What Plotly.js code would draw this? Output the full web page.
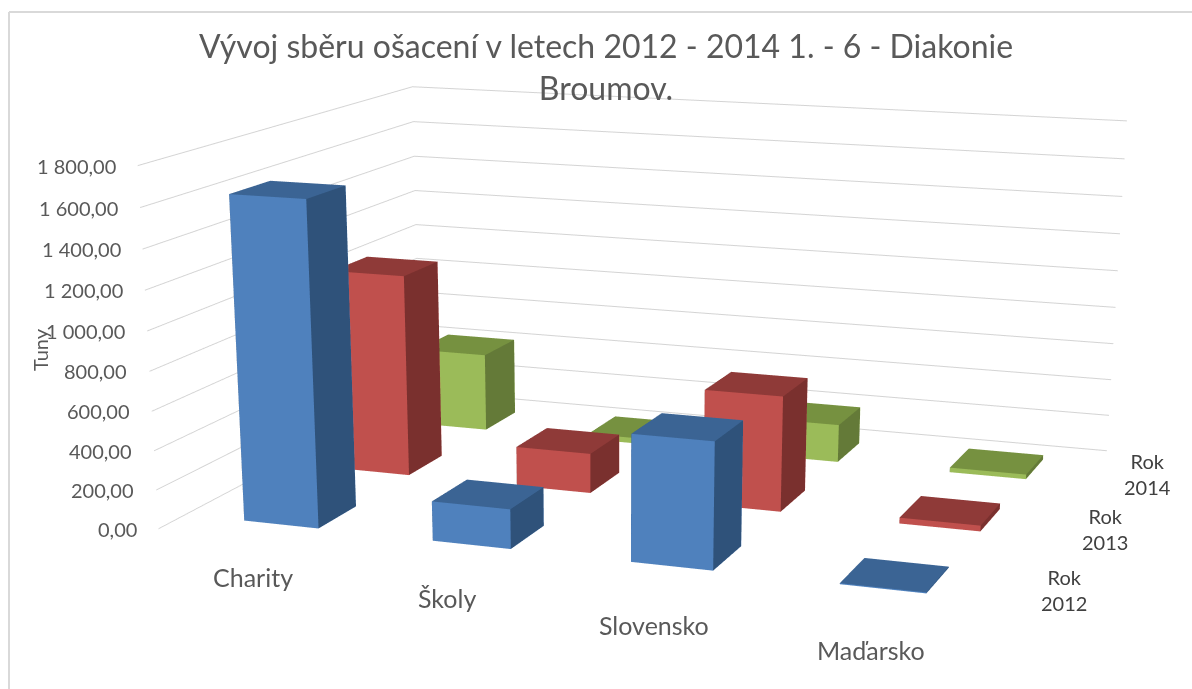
<!DOCTYPE html>
<html><head><meta charset="utf-8"><script src="https://cdn.plot.ly/plotly-3.0.1.min.js"></script>
<style>html,body{margin:0;padding:0;background:#fff;overflow:hidden}#w{position:relative;width:1192px;height:689px;overflow:hidden}#c{position:absolute;left:-584px;top:-457px}</style></head>
<body><div id="w"><div id="c"></div></div>
<script>
const categories = ['Charity','Školy','Slovensko','Maďarsko'];
const seriesNames = ['Rok<br>2012','Rok<br>2013','Rok<br>2014'];
const rok2012 = [1640, 200, 630, 5];
const rok2013 = [1070, 210, 600, 30];
const rok2014 = [430, 30, 205, 25];
const series = [rok2012, rok2013, rok2014];
const colors = [['#4f81bd','#2f527a','#3b6494'],['#c0504d','#7a302e','#8f3a38'],['#9bbb59','#647a38','#769140']];
const tickVals = [0,200,400,600,800,1000,1200,1400,1600,1800];
const tickText = ['0,00','200,00','400,00','600,00','800,00','1 000,00','1 200,00','1 400,00','1 600,00','1 800,00'];
const W=2400,H=2268,OX=584,OY=457;
const px=x=>(x+OX)/W, py=y=>1-(y+OY)/H;
const traces = [];
const hwx = 0.2, hwy=0.205, cx=0.02, rowShift=[-0.03,0,0];
series.forEach((vals, s) => {
  vals.forEach((v, c) => {
    const x0=c+cx-hwx,x1=c+cx+hwx,y0=s+rowShift[s]-hwy,y1=s+rowShift[s]+hwy;
    const xs=[x0,x1,x1,x0,x0,x1,x1,x0], ys=[y0,y0,y1,y1,y0,y0,y1,y1], zs=[0,0,0,0,v,v,v,v];
    const tri=[[0,1,5,0],[0,5,4,0],[1,2,6,1],[1,6,5,1],[4,5,6,2],[4,6,7,2],[2,3,7,0],[2,7,6,0],[3,0,4,1],[3,4,7,1],[0,2,1,0],[0,3,2,0]];
    traces.push({type:'mesh3d',x:xs,y:ys,z:zs,i:tri.map(t=>t[0]),j:tri.map(t=>t[1]),k:tri.map(t=>t[2]),
      facecolor:tri.map(t=>colors[s][t[3]]),flatshading:true,
      lighting:{ambient:1,diffuse:0,specular:0,roughness:1,fresnel:0},hoverinfo:'skip',showscale:false});
  });
});
const grey='#595959';
const axOff={title:{text:''},showgrid:false,zeroline:false,showbackground:false,showline:false,showticklabels:false,ticks:'',showspikes:false};
const ann=[];
const catShiftX=[2,2,6,9], catShiftY=[-38,-38,-43,-44], rokShiftX=[64,58,59], rokShiftY=[-5,-3,0];
tickVals.forEach((z,i)=>ann.push({x:-0.5,y:-0.5,z:z,text:tickText[i],showarrow:false,xanchor:'right',xshift:-20,font:{family:'Lato',size:20,color:grey}}));
categories.forEach((c,i)=>ann.push({x:i,y:-0.5,z:0,text:c,showarrow:false,xshift:catShiftX[i],yshift:catShiftY[i],font:{family:'Lato',size:25,color:grey}}));
seriesNames.forEach((c,i)=>ann.push({x:3.5,y:i,z:0,text:c,showarrow:false,xshift:rokShiftX[i],yshift:rokShiftY[i],font:{family:'Lato',size:20,color:'#404040'}}));
const layout={width:W,height:H,margin:{l:0,r:0,t:0,b:0},paper_bgcolor:'#fff',showlegend:false,
 title:{text:'Vývoj sběru ošacení v letech 2012 - 2014 1. - 6 - Diakonie<br>Broumov.',x:px(606),xanchor:'center',yref:'paper',y:py(58),yanchor:'top',font:{family:'Lato',size:32,color:grey}},
 annotations:[{text:'Tuny',xref:'paper',yref:'paper',x:px(40),y:py(350),xanchor:'center',yanchor:'middle',showarrow:false,textangle:-90,font:{family:'Lato',size:20,color:grey}}],
 shapes:[{type:'line',xref:'paper',yref:'paper',x0:px(9),x1:px(9),y0:py(12),y1:py(700),line:{color:'#d9d9d9',width:2}},
         {type:'line',xref:'paper',yref:'paper',x0:px(9),x1:px(1200),y0:py(12),y1:py(12),line:{color:'#d9d9d9',width:2}}],
 scene:{domain:{x:[0,1],y:[0,1]},aspectmode:'manual',aspectratio:{x:2.302,y:1.766,z:1},
  camera:{eye:{x:2.563,y:-7.285,z:1.611},center:{x:1.678,y:-4.888,z:0.719},up:{x:0,y:0,z:1},projection:{type:'perspective'}},
  xaxis:Object.assign({range:[-0.5,3.5]},axOff),
  yaxis:Object.assign({range:[-0.5,2.5]},axOff),
  zaxis:Object.assign({},axOff,{range:[0,1800],tickvals:tickVals,gridcolor:'#d4d4d4',gridwidth:2,showgrid:true}),
  annotations:ann
 }};
Plotly.newPlot('c',traces,layout,{displayModeBar:false});
</script></body></html>
